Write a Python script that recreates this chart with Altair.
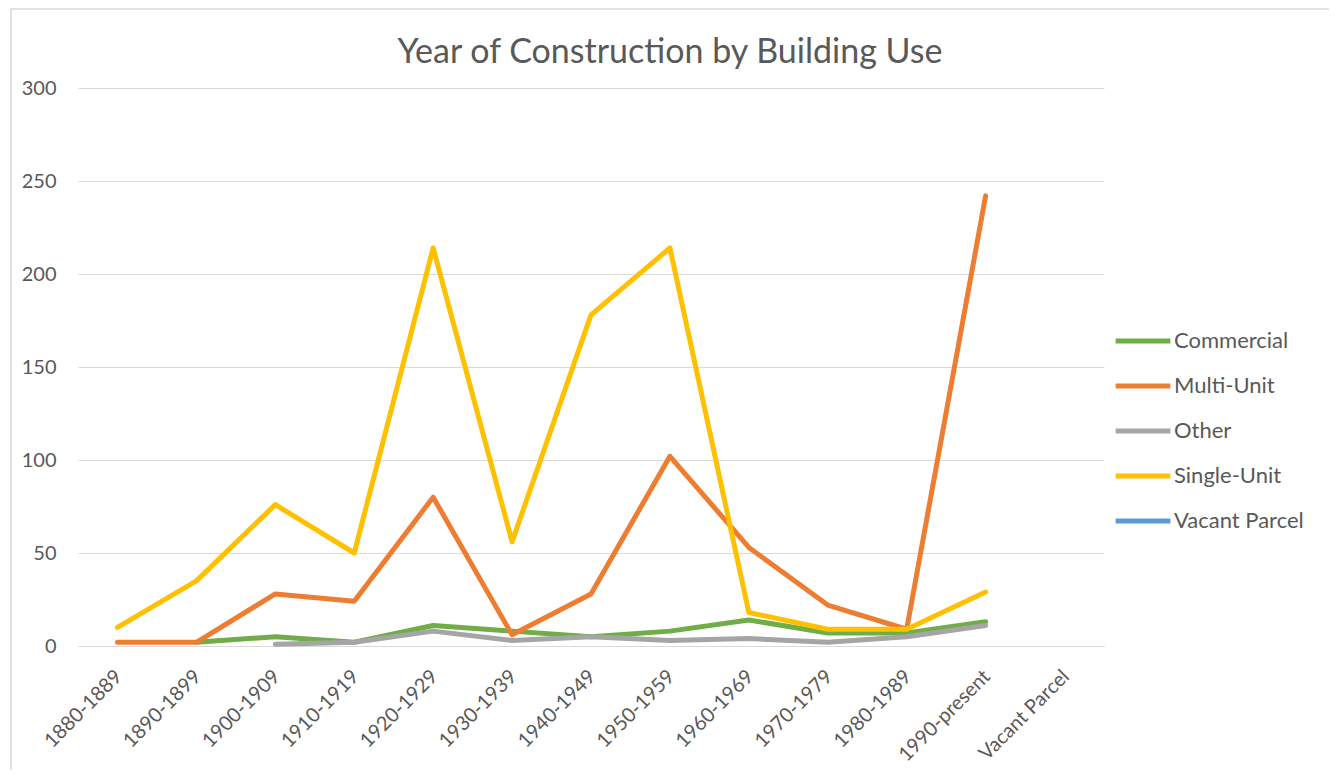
import altair as alt
import pandas as pd

periods = ["1880-1889", "1890-1899", "1900-1909", "1910-1919", "1920-1929",
           "1930-1939", "1940-1949", "1950-1959", "1960-1969", "1970-1979",
           "1980-1989", "1990-present", "Vacant Parcel"]

commercial = [None, 2, 5, 2, 11, 8, 5, 8, 14, 7, 7, 13, None]
multi_unit = [2, 2, 28, 24, 80, 6, 28, 102, 53, 22, 9, 242, None]
other = [None, None, 1, 2, 8, 3, 5, 3, 4, 2, 5, 11, None]
single_unit = [10, 35, 76, 50, 214, 56, 178, 214, 18, 9, 9, 29, None]
vacant_parcel = [None] * 13

series_names = ["Commercial", "Multi-Unit", "Other", "Single-Unit", "Vacant Parcel"]
series_values = [commercial, multi_unit, other, single_unit, vacant_parcel]
colors = ["#70AD47", "#ED7D31", "#A5A5A5", "#FFC000", "#5B9BD5"]
title_text = "Year of Construction by Building Use"

rows = []
for name, vals in zip(series_names, series_values):
    for p, v in zip(periods, vals):
        rows.append({"Period": p, "Use": name, "Count": v})
df = pd.DataFrame(rows)

FONT = "Lato"
TXT = "#595959"

lines = alt.Chart(df).mark_line(strokeWidth=5, strokeCap="round", strokeJoin="round").encode(
    x=alt.X("Period:N", sort=periods,
            scale=alt.Scale(type="point", padding=0.5, domain=periods),
            axis=alt.Axis(title=None, labelAngle=-45, labelFontSize=20, labelColor=TXT,
                          labelFont=FONT, ticks=False, domain=True, domainColor="#d9d9d9",
                          labelPadding=20, labelOffset=-6, grid=False, labelOverlap=False)),
    y=alt.Y("Count:Q", scale=alt.Scale(domain=[0, 300], nice=False),
            axis=alt.Axis(title=None, values=[0, 50, 100, 150, 200, 250, 300],
                          labelFontSize=20, labelColor=TXT, labelFont=FONT,
                          ticks=False, domain=False, grid=True, gridColor="#d9d9d9",
                          labelPadding=22)),
    color=alt.Color("Use:N", scale=alt.Scale(domain=series_names, range=colors),
                    legend=alt.Legend(title=None, orient="none", legendX=1035, legendY=223,
                                      symbolType="stroke", symbolStrokeWidth=5,
                                      symbolSize=3000, labelFontSize=22, labelColor=TXT,
                                      labelFont=FONT, rowPadding=4, labelOffset=1,
                                      symbolOpacity=1)),
)

frame = alt.Chart(pd.DataFrame({"a": [0]})).mark_rect(
    fill=None, stroke="#d9d9d9", strokeWidth=1.5
).encode(x=alt.value(-67), x2=alt.value(1254), y=alt.value(-79), y2=alt.value(700))

title = alt.Chart(pd.DataFrame({"t": [title_text]})).mark_text(
    font=FONT, fontSize=34, color=TXT, align="center", baseline="middle"
).encode(text="t:N", x=alt.value(592), y=alt.value(-35))

chart = alt.layer(frame, lines, title).properties(
    width=1026, height=558,
    padding={"left": 70, "top": 80, "right": 225, "bottom": 124},
    autosize=alt.AutoSizeParams(type="none"),
).configure_view(stroke=None)

chart.save("out.html", embed_options={"renderer": "svg", "actions": False})
